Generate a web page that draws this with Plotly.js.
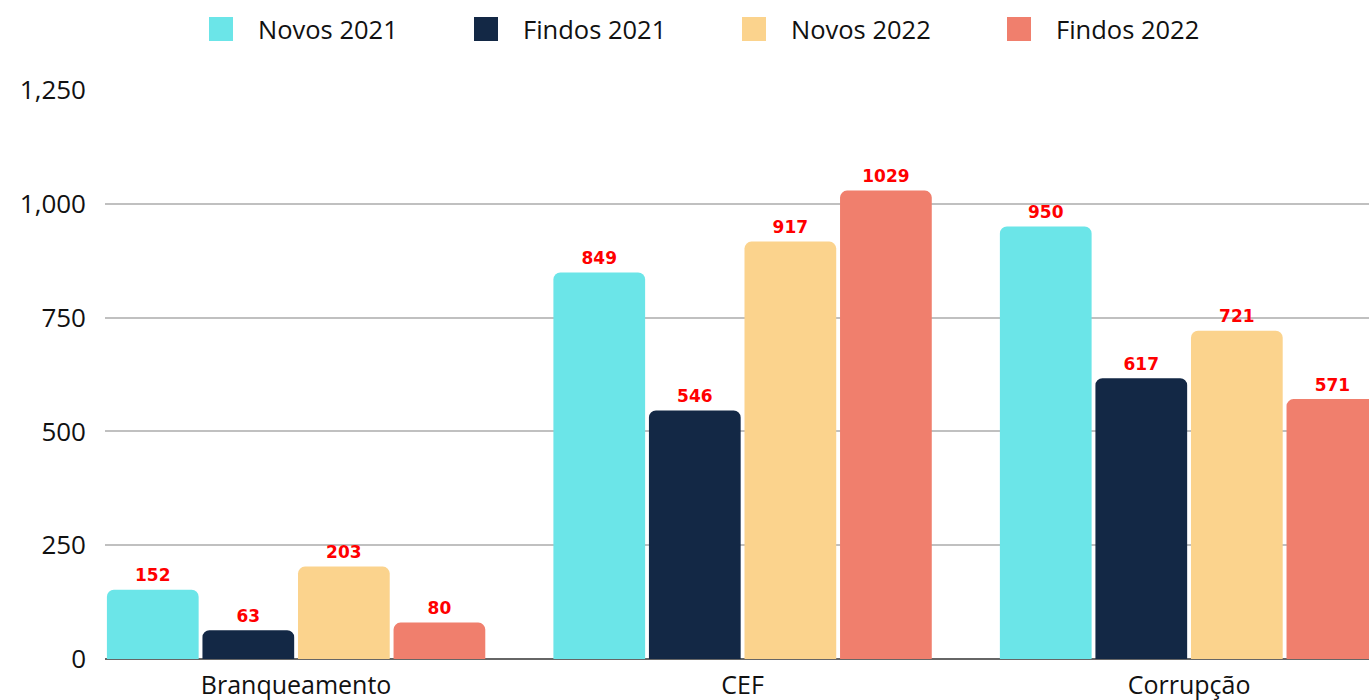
<!DOCTYPE html>
<html>
<head>
<meta charset="utf-8">
<script src="https://cdn.plot.ly/plotly-3.0.1.min.js"></script>
<style>
  html, body { margin: 0; padding: 0; background: #fff; }
  #chart { width: 1369px; height: 700px; }
</style>
</head>
<body>
<div id="chart"></div>
<script>
const categories = ['Branqueamento', 'CEF', 'Corrupção']

const seriesNames = ['Novos 2021', 'Findos 2021', 'Novos 2022', 'Findos 2022']
const seriesColors = ['#6BE5E8', '#132845', '#FBD38D', '#F07F6D']

const novos2021 = [152, 849, 950]
const findos2021 = [63, 546, 617]
const novos2022 = [203, 917, 721]
const findos2022 = [80, 1029, 571]

const seriesValues = [novos2021, findos2021, novos2022, findos2022]

const yTicks = [0, 250, 500, 750, 1000, 1250]

// plot area in pixels, used to place the hand-made legend
const plotLeft = 105, plotWidth = 1264, plotTop = 90, plotBottom = 659
const px = x => (x - plotLeft) / plotWidth
const py = y => (plotBottom - y) / (plotBottom - plotTop)

const bars = seriesValues.map((vals, i) => ({
  type: 'bar',
  name: seriesNames[i],
  x: categories,
  y: vals,
  offsetgroup: 'g' + i,
  marker: { color: seriesColors[i], cornerradius: 7 },
  showlegend: false,
  hoverinfo: 'x+y+name'
}))

// value labels: text-only scatter aligned with each bar group,
// invisible marker size sets the gap above the bar
const labels = seriesValues.map((vals, i) => ({
  type: 'scatter',
  mode: 'markers+text',
  x: categories,
  y: vals,
  offsetgroup: 'g' + i,
  text: vals.map(String),
  textposition: 'top center',
  textfont: { family: 'DejaVu Sans, sans-serif', size: 17, color: '#FF0000', weight: 'bold' },
  marker: { size: 5, opacity: 0 },
  cliponaxis: false,
  showlegend: false,
  hoverinfo: 'skip'
}))

// legend drawn as squares + labels above the plot
const legendLeft = [209, 474, 742, 1007]
const shapes = []
const annotations = []
seriesNames.forEach((name, i) => {
  shapes.push({
    type: 'rect', xref: 'paper', yref: 'paper',
    x0: px(legendLeft[i]), x1: px(legendLeft[i] + 24),
    y0: py(41), y1: py(17),
    fillcolor: seriesColors[i], line: { width: 0 }
  })
  annotations.push({
    xref: 'paper', yref: 'paper',
    x: px(legendLeft[i] + 47), y: py(29),
    xanchor: 'left', yanchor: 'middle',
    text: name, showarrow: false,
    font: { family: 'Open Sans, sans-serif', size: 25.5, color: '#111' }
  })
})

const layout = {
  width: 1369,
  height: 700,
  margin: { l: plotLeft, r: 0, t: plotTop, b: 700 - plotBottom },
  paper_bgcolor: '#fff',
  plot_bgcolor: '#fff',
  barmode: 'group',
  bargap: 0.144,
  bargroupgap: 0.04,
  scattermode: 'group',
  scattergap: 0.144,
  showlegend: false,
  font: { family: 'Open Sans, sans-serif', color: '#111' },
  xaxis: {
    type: 'category',
    range: [-0.428, 2.403],
    showgrid: false,
    showline: false,
    ticks: '',
    ticklabelstandoff: 9,
    tickfont: { size: 25, color: '#111' },
    fixedrange: true
  },
  yaxis: {
    range: [0, 1250],
    tickvals: yTicks,
    tickformat: ',',
    showgrid: true,
    gridcolor: '#c0c0c0',
    gridwidth: 2,
    zeroline: true,
    zerolinecolor: '#666',
    zerolinewidth: 2,
    showline: false,
    ticks: '',
    ticklabelstandoff: 18,
    tickfont: { size: 26, color: '#111' },
    fixedrange: true
  },
  shapes: shapes,
  annotations: annotations
}

Plotly.newPlot('chart', bars.concat(labels), layout, { displayModeBar: false, staticPlot: true })
</script>
</body>
</html>
